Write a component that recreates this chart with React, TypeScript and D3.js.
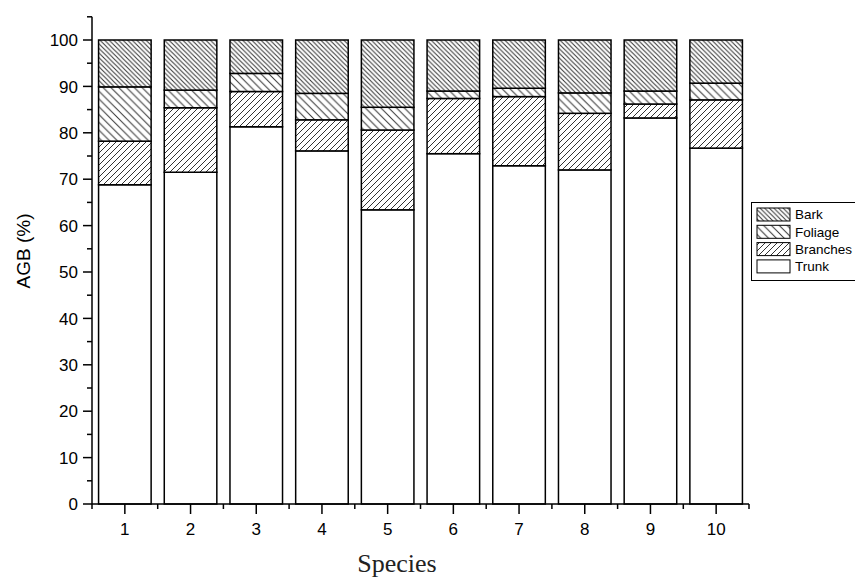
import React from "react";
import * as d3 from "d3";

const species = [1, 2, 3, 4, 5, 6, 7, 8, 9, 10];
const trunk = [68.8, 71.5, 81.3, 76.1, 63.4, 75.5, 72.9, 72.0, 83.2, 76.7];
const branches = [9.4, 13.9, 7.6, 6.7, 17.2, 11.9, 14.9, 12.2, 3.0, 10.4];
const foliage = [11.7, 3.8, 3.9, 5.7, 4.9, 1.6, 1.8, 4.4, 2.8, 3.6];
const bark = [10.1, 10.8, 7.2, 11.5, 14.5, 11.0, 10.4, 11.4, 11.0, 9.3];
const seriesNames = ["Trunk", "Branches", "Foliage", "Bark"];
const yMajorTicks = [0, 10, 20, 30, 40, 50, 60, 70, 80, 90, 100];
const yMinorTicks = [5, 15, 25, 35, 45, 55, 65, 75, 85, 95, 105];
const xMinorTicks = [0.5, 1.5, 2.5, 3.5, 4.5, 5.5, 6.5, 7.5, 8.5, 9.5, 10.5];

const fills: Record<string, string> = {
  Trunk: "#ffffff",
  Branches: "url(#hBranches)",
  Foliage: "url(#hFoliage)",
  Bark: "url(#hBark)",
};

const FONT = "'Liberation Sans', Arial, sans-serif";

function backslash(w: number) {
  return `M${-1},${w - 1} l2,2 M0,0 l${w},${w} M${w - 1},-1 l2,2`;
}
function slash(w: number) {
  return `M-1,1 l2,-2 M0,${w} l${w},${-w} M${w - 1},${w + 1} l2,-2`;
}

export default function App() {
  const x = d3.scaleLinear().domain([0.5, 10.5]).range([92, 749]);
  const y = d3.scaleLinear().domain([0, 105]).range([504, 16.8]);
  const rows = species.map((s, i) => ({
    species: s,
    Trunk: trunk[i],
    Branches: branches[i],
    Foliage: foliage[i],
    Bark: bark[i],
  }));
  const stack = d3.stack<any>().keys(seriesNames)(rows);
  const bw = (x(2) - x(1)) * 0.8;

  return (
    <svg
      width={855}
      height={579}
      style={{ position: "absolute", left: 0, top: 0, background: "#fff" }}
      fontFamily={FONT}
    >
      <defs>
        <pattern id="hBark" patternUnits="userSpaceOnUse" width={4.6} height={4.6}>
          <rect width={4.6} height={4.6} fill="#fff" />
          <path d={backslash(4.6)} stroke="#333" strokeWidth={1} />
        </pattern>
        <pattern id="hFoliage" patternUnits="userSpaceOnUse" width={7.8} height={7.8}>
          <rect width={7.8} height={7.8} fill="#fff" />
          <path d={backslash(7.8)} stroke="#333" strokeWidth={1} />
        </pattern>
        <pattern id="hBranches" patternUnits="userSpaceOnUse" width={6} height={6}>
          <rect width={6} height={6} fill="#fff" />
          <path d={slash(6)} stroke="#333" strokeWidth={1} />
        </pattern>
      </defs>

      {/* bars */}
      {stack.map((layer) => (
        <g key={layer.key}>
          {layer.map((d: any, i: number) => (
            <rect
              key={i}
              x={x(species[i]) - bw / 2}
              y={y(d[1])}
              width={bw}
              height={y(d[0]) - y(d[1])}
              fill={fills[layer.key]}
              stroke="#000"
              strokeWidth={1.5}
            />
          ))}
        </g>
      ))}

      {/* y axis */}
      <line x1={92} x2={92} y1={y(105)} y2={y(0)} stroke="#000" strokeWidth={1.5} />
      {yMajorTicks.map((t) => (
        <g key={t}>
          <line x1={83} x2={92} y1={y(t)} y2={y(t)} stroke="#000" strokeWidth={1.5} />
          <text x={78} y={y(t)} dy="0.36em" textAnchor="end" fontSize={17}>
            {t}
          </text>
        </g>
      ))}
      {yMinorTicks.map((t) => (
        <line key={t} x1={87} x2={92} y1={y(t)} y2={y(t)} stroke="#000" strokeWidth={1.5} />
      ))}

      {/* x axis */}
      <line x1={92} x2={x(10.5)} y1={504} y2={504} stroke="#000" strokeWidth={1.5} />
      {species.map((s) => (
        <g key={s}>
          <line x1={x(s)} x2={x(s)} y1={504} y2={514} stroke="#000" strokeWidth={1.5} />
          <text x={x(s)} y={535} textAnchor="middle" fontSize={17}>
            {s}
          </text>
        </g>
      ))}
      {xMinorTicks.map((t) => (
        <line key={t} x1={x(t)} x2={x(t)} y1={504} y2={509} stroke="#000" strokeWidth={1.5} />
      ))}

      {/* axis titles */}
      <text
        transform="translate(30,251) rotate(-90)"
        textAnchor="middle"
        fontSize={19}
      >
        AGB (%)
      </text>
      <text
        x={397}
        y={572}
        textAnchor="middle"
        fontSize={26}
        fontFamily="'Liberation Serif', 'Times New Roman', serif"
        fill="#222"
      >
        Species
      </text>

      {/* legend */}
      <rect x={751.5} y={202.5} width={120} height={78} fill="#fff" stroke="#000" strokeWidth={1} />
      {["Bark", "Foliage", "Branches", "Trunk"].map((k, i) => (
        <g key={k}>
          <rect
            x={757}
            y={208 + i * 17.3}
            width={33}
            height={13}
            fill={fills[k]}
            stroke="#000"
            strokeWidth={1}
          />
          <text x={795} y={214.5 + i * 17.3} dy="0.36em" fontSize={13.5}>
            {k}
          </text>
        </g>
      ))}
    </svg>
  );
}
